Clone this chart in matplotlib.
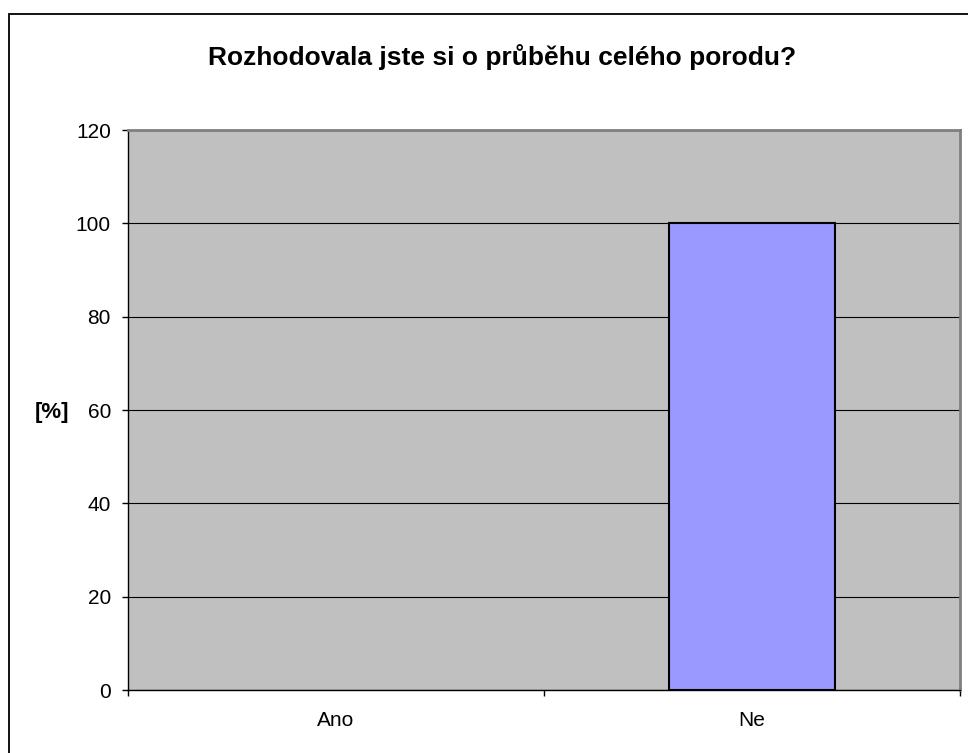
import matplotlib
matplotlib.use("Agg")
import matplotlib.pyplot as plt
from matplotlib.patches import Rectangle

categories = ["Ano", "Ne"]
values = [0, 100]
y_ticks = [0, 20, 40, 60, 80, 100, 120]
title = "Rozhodovala jste si o průběhu celého porodu?"
y_label = "[%]"

W, H = 968, 753
fig = plt.figure(figsize=(W / 100, H / 100), dpi=100)
plt.rcParams["font.family"] = ["Liberation Sans", "DejaVu Sans"]

# outer chart frame (runs off the right and bottom edges)
fig.patches.append(Rectangle((9 / W, -0.05), 1.1, 1 - 14 / H + 0.05,
                             transform=fig.transFigure, fill=False,
                             edgecolor="black", linewidth=1.3, zorder=0))

left, right, top, bottom = 128, 960, 130, 690
ax = fig.add_axes([left / W, 1 - bottom / H, (right - left) / W, (bottom - top) / H])
ax.set_facecolor("#C0C0C0")

x = list(range(len(categories)))
bars = ax.bar(x, values, width=0.4, color="#9999FF", edgecolor="black", linewidth=1.5, zorder=3)
for b, v in zip(bars, values):
    if v == 0:
        b.set_linewidth(0)

ax.set_xlim(-0.5, len(categories) - 0.5)
ax.set_ylim(0, 120)
ax.set_yticks(y_ticks)
ax.set_yticklabels([str(v) for v in y_ticks], fontsize=15)
ax.yaxis.grid(True, color="black", linewidth=0.8, zorder=1)
ax.set_axisbelow(True)

ax.set_xticks([i + 0.5 for i in x[:-1]] + [-0.5, len(categories) - 0.5])
ax.set_xticklabels([""] * (len(categories) + 1))
for i, c in zip(x, categories):
    ax.text(i, -0.054, c, transform=ax.get_xaxis_transform(), ha="center", va="center", fontsize=15)

ax.tick_params(axis="both", direction="out", length=4.3, width=1, color="black", pad=8)

for side in ("top", "right"):
    ax.spines[side].set_color("#808080")
    ax.spines[side].set_linewidth(2)
for side in ("left", "bottom"):
    ax.spines[side].set_color("black")
    ax.spines[side].set_linewidth(1)

fig.text(502 / W, 1 - 57 / H, title, ha="center", va="center", fontsize=19, fontweight="bold")
fig.text(52 / W, 1 - 413 / H, y_label, ha="center", va="center", fontsize=16, fontweight="bold")

fig.savefig("out.png", dpi=100, facecolor="white")
